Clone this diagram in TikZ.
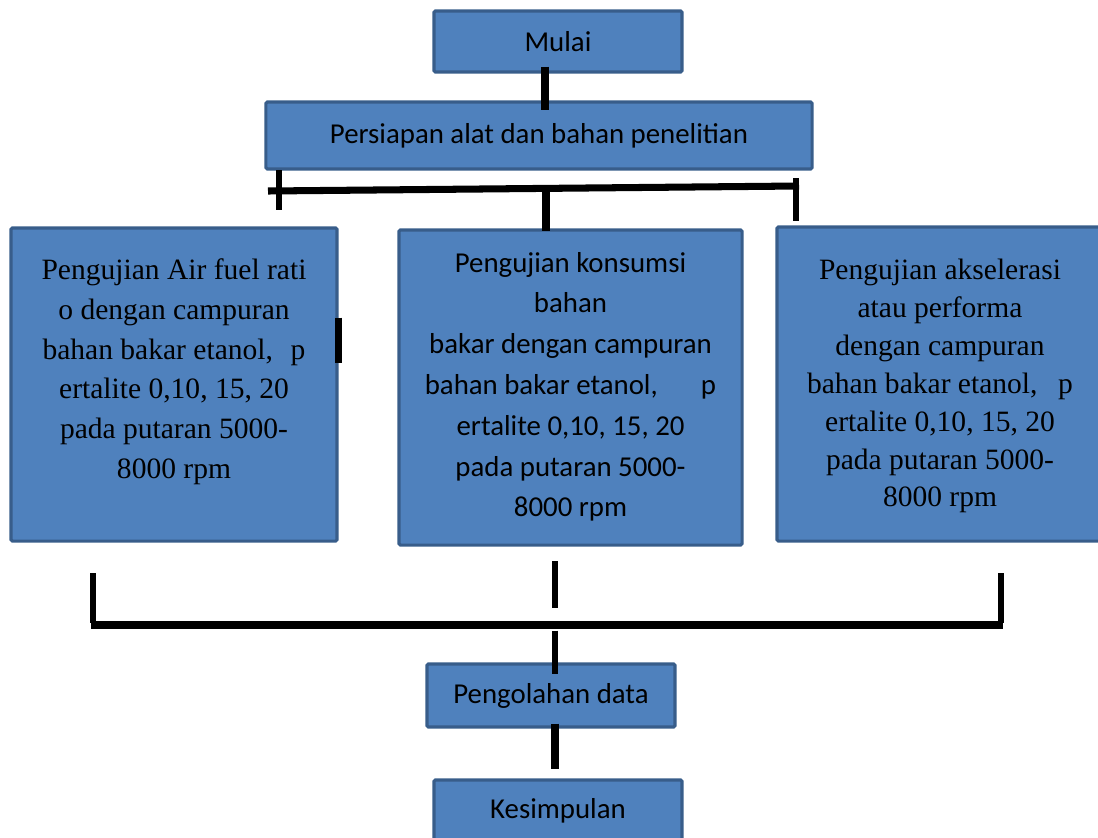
\documentclass[tikz,border=0pt]{standalone}
\usepackage{fontspec}
\setmainfont{Liberation Serif}
\newfontfamily\calibri{Carlito}

\definecolor{boxfill}{HTML}{4F81BD}
\definecolor{boxline}{HTML}{385D8A}

% text block of a test box: width, height, first baseline, lines
\newcommand{\boxtext}[4]{\parbox[c][#2][t]{#1}{\centering\rule{0pt}{#3}#4}}

\tikzset{
  stage/.style={draw=boxline, fill=boxfill, line width=2.2pt, rounded corners=1pt,
    inner sep=0pt, font=\calibri\fontsize{20.5}{29}\selectfont},
  link/.style={line width=5pt},
  tick/.style={line width=3.6pt},
  bar/.style={line width=5.8pt},
}

\begin{document}
\begin{tikzpicture}[x=0.025cm, y=-0.025cm]
    \useasboundingbox (0,0) rectangle (1098,837);

    % boxes
    \node[stage, minimum width=6.2cm, minimum height=1.525cm] (mulai) at (558,41.5) {Mulai};
    \node[stage, minimum width=13.65cm, minimum height=1.675cm] (prep) at (539,135.5) {Persiapan alat dan bahan penelitian};

    \node[stage, font=\rmfamily\fontsize{21}{28.2}\selectfont] (afr) at (174,384.5)
        {\boxtext{8.15cm}{7.825cm}{37pt}{Pengujian Air fuel rati\\ o dengan campuran\\ bahan bakar etanol,\hspace{0.6em}p\\ ertalite 0,10, 15, 20\\ pada putaran 5000-\\ 8000 rpm}};
    \node[stage] (fuel) at (570.5,387.5)
        {\boxtext{8.575cm}{7.875cm}{30pt}{Pengujian konsumsi\\ bahan\\ bakar dengan campuran\\ bahan bakar etanol,\hspace{1.5em}p\\ ertalite 0,10, 15, 20\\ pada putaran 5000-\\ 8000 rpm}};
    \node[stage, font=\rmfamily\fontsize{21}{26.9}\selectfont] (accel) at (940,384)
        {\boxtext{8.15cm}{7.85cm}{37.7pt}{Pengujian akselerasi\\ atau performa\\ dengan campuran\\ bahan bakar etanol,\hspace{0.7em}p\\ ertalite 0,10, 15, 20\\ pada putaran 5000-\\ 8000 rpm}};

    \node[stage, minimum width=6.2cm, minimum height=1.575cm] (olah) at (551,695.5) {Pengolahan data};
    \node[stage, minimum width=6.2cm, minimum height=1.525cm] (kesimpulan) at (558,810.5) {Kesimpulan};

    % top split
    \coordinate (busL) at (268,191);
    \coordinate (tapL) at (279,190);
    \coordinate (tapM) at (546,188);
    \coordinate (tapR) at (796,186);
    \coordinate (busR) at (799,186);

    \draw[link] ([shift={(-13,-7)}]mulai.south) -- ([shift={(6,10)}]prep.north);
    \draw[link] (busL) -- (busR);
    \draw[tick] (tapL) ++(0,-20) -- ++(0,40);
    \draw[tick] (tapR) ++(0,-8) -- ++(0,43);
    \draw[link] (tapM) -- ([yshift=-2pt]tapM |- fuel.north);
    \draw[link] ([shift={(0,-67)}]afr.east) -- ([shift={(0,-22)}]afr.east);

    % bottom join
    \coordinate (sumL) at (91,625);
    \coordinate (sumM) at (555,625);
    \coordinate (sumR) at (1003,625);

    \draw[tick] (sumL) ++(2,-52) -- ++(0,50);
    \draw[tick] (sumM) ++(0,-64) -- ++(0,47);
    \draw[tick] (sumR) ++(-2,-52) -- ++(0,50);
    \draw[bar] (sumL) -- (sumR);
    \draw[tick, line width=4.2pt] ([yshift=-4pt]sumM) -- ([shift={(0,12)}]sumM |- olah.north);
    \draw[link] ([shift={(4,-5)}]olah.south) -- ([shift={(-3,-9)}]kesimpulan.north);
\end{tikzpicture}
\end{document}
